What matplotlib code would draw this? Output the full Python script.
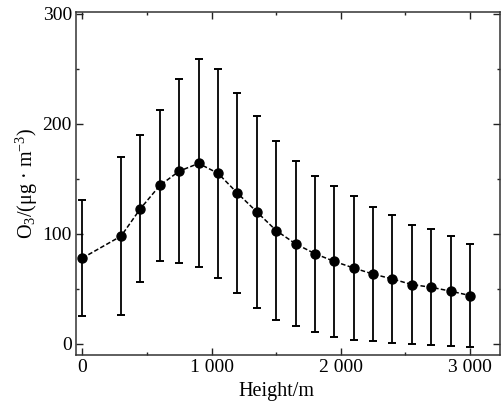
import matplotlib
matplotlib.use("Agg")
import matplotlib.pyplot as plt
import numpy as np
from matplotlib.ticker import MultipleLocator, FixedLocator

heights = [0, 300, 450, 600, 750, 900, 1050, 1200, 1350, 1500, 1650, 1800,
           1950, 2100, 2250, 2400, 2550, 2700, 2850, 3000]
o3_mean = [78, 98, 123, 144, 157, 164, 155, 137, 120, 103, 91, 82,
           75, 69, 63.5, 59, 54, 51.5, 48, 44]
o3_std = [53, 72, 67, 68.5, 83.5, 94.5, 95, 90.5, 87, 81.5, 75, 71,
          68.5, 65, 60.5, 58.5, 54, 52.5, 50, 47]
xtick_vals = [0, 1000, 2000, 3000]
xtick_labels = ["0", "1 000", "2 000", "3 000"]
ytick_vals = [0, 100, 200, 300]

plt.rcParams['font.family'] = ['Liberation Serif', 'DejaVu Serif']
plt.rcParams['mathtext.fontset'] = 'custom'
plt.rcParams['mathtext.rm'] = 'Liberation Serif'
plt.rcParams['mathtext.it'] = 'Liberation Serif:italic'

fig = plt.figure(figsize=(5.01, 4.03), dpi=100)
ax = fig.add_axes([76/501, 1-355/403, (500-76)/501, (355-12)/403])

ax.errorbar(heights, o3_mean, yerr=o3_std, fmt='o', color='black',
            ecolor='black', elinewidth=1.3, capsize=3, capthick=1.4,
            markersize=6.5, zorder=3)
ax.plot(heights, o3_mean, linestyle=(0, (3, 1.5)), color='black', lw=1.1, zorder=2)

ax.set_xlim(-49, 3232)
ax.set_ylim(-10, 301.5)
ax.xaxis.set_major_locator(FixedLocator(xtick_vals))
ax.set_xticklabels(xtick_labels)
ax.xaxis.set_minor_locator(MultipleLocator(500))
ax.yaxis.set_major_locator(FixedLocator(ytick_vals))
ax.yaxis.set_minor_locator(MultipleLocator(50))
ax.tick_params(which='both', direction='in', top=True, right=True,
               labelsize=14, width=1.0, colors='#222222', labelcolor='black')
ax.tick_params(which='major', length=5, pad=3)
ax.tick_params(which='minor', length=2.5)
for s in ax.spines.values():
    s.set_linewidth(1.1)
    s.set_color('#333333')

ax.set_xlabel('Height/m', fontsize=14.5, labelpad=0)
ax.set_ylabel(r'O$_3$/(μg · m$^{-3}$)', fontsize=14.5, labelpad=2)
ax.xaxis.set_label_coords((276-76)/(500-76), -(382-355)/343)

fig.savefig('out.png', dpi=100)
